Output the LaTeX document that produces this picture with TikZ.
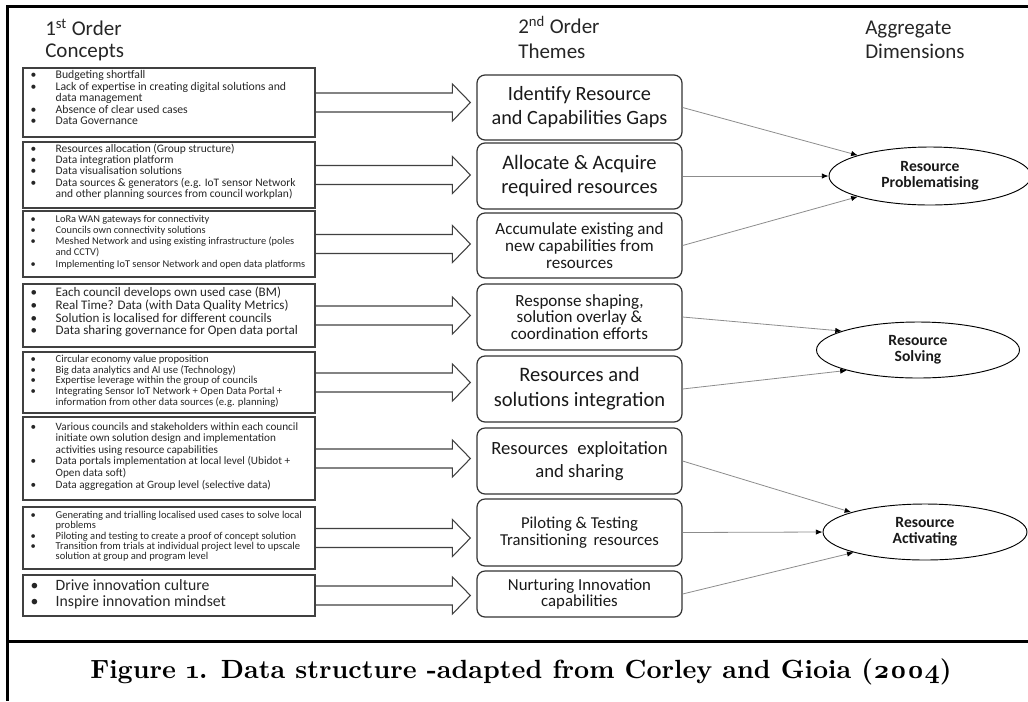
\documentclass[tikz,border=0pt]{standalone}
\usepackage{fontspec}
\setsansfont{Carlito}
\renewcommand\familydefault{\sfdefault}
\newfontfamily\capfont{lmroman10-regular.otf}[BoldFont=lmroman10-bold.otf,Numbers=OldStyle]
\usepackage{graphicx}
\usetikzlibrary{calc,arrows.meta,shapes.geometric}
\newcommand\barrow[2]{%
  \draw[barr] ($(#1.east)+(0,-9.5)$) -- ($(#1.east -| #2.west)+(-24,-9.5)$)
    -- ($(#1.east -| #2.west)+(-24,-18.5)$) -- ($(#1.east -| #2.west)+(-6,0)$)
    -- ($(#1.east -| #2.west)+(-24,18.5)$) -- ($(#1.east -| #2.west)+(-24,9.5)$)
    -- ($(#1.east)+(0,9.5)$);}
\newcommand\bl{\textbullet}
\begin{document}
\begin{tikzpicture}[x=0.75pt,y=-0.75pt,
  lbox/.style={draw=black!75, line width=0.9pt, minimum width=219pt, inner sep=0pt},
  ltext/.style={anchor=west, inner sep=0pt, align=left, text=black!85},
  mbox/.style={draw=black!80, line width=0.9pt, rounded corners=6pt, minimum width=153.75pt, inner sep=0pt, align=center, text=black!90},
  ell/.style={draw=black, line width=0.7pt, ellipse, inner sep=0pt, align=center, text=black!90, font=\bfseries\fontsize{11.7}{12}\selectfont},
  barr/.style={draw=black!75, line width=0.8pt},
  conn/.style={draw=black!45, line width=0.6pt, -{Latex[length=5pt,width=4pt,color=black]}},
  frame/.style={line width=2.25pt, black},
  hdr/.style={anchor=west, inner sep=0pt, align=left, text=black!85}
]
\useasboundingbox (0,0) rectangle (1028,701);
% frame
\draw[frame] (7,6) -- (1028,6);
\draw[frame] (7,5) -- (7,701);
\draw[frame] (7,641) -- (1028,641);
% headers
\node[hdr, font=\fontsize{15.75}{16.5}\selectfont] (H1) at (45,40) {1\textsuperscript{st} Order\\Concepts};
\node[hdr, font=\fontsize{15.75}{18.5}\selectfont] (H2) at (518,37.5) {2\textsuperscript{nd} Order\\Themes};
\node[hdr, font=\fontsize{15.75}{18}\selectfont] (H3) at (865,40) {Aggregate\\Dimensions};
% left boxes
\node[lbox, minimum height=51.75pt] (L1) at (169,102.5) {};
\node[lbox, minimum height=49.5pt] (L2) at (169,175) {};
\node[lbox, minimum height=49.5pt] (L3) at (169,244) {};
\node[lbox, minimum height=47.25pt] (L4) at (169,315.5) {};
\node[lbox, minimum height=45.75pt] (L5) at (169,382.5) {};
\node[lbox, minimum height=62.25pt] (L6) at (169,458.5) {};
\node[lbox, minimum height=46.5pt] (L7) at (169,538) {};
\node[lbox, minimum height=30.75pt] (L8) at (169,595.5) {};
% left texts
\node[ltext, font=\fontsize{8.8}{8.4}\selectfont] (T1) at ($(L1.west)+(8,-3.5)$) {\begin{tabular}{@{}p{18.75pt}@{}l@{}}
\bl & Budgeting shortfall\\
\bl & Lack of expertise in creating digital solutions and\\
 & data management\\
\bl & Absence of clear used cases\\
\bl & Data Governance\end{tabular}};
\node[ltext, font=\fontsize{8.6}{8.25}\selectfont] (T2) at ($(L2.west)+(8,-2.5)$) {\begin{tabular}{@{}p{18.75pt}@{}l@{}}
\bl & Resources allocation (Group structure)\\
\bl & Data integration platform\\
\bl & Data visualisation solutions\\
\bl & Data sources \& generators (e.g. IoT sensor Network\\
 & and other planning sources from council workplan)\end{tabular}};
\node[ltext, font=\fontsize{7.8}{8.4}\selectfont] (T3) at ($(L3.west)+(8,-1.5)$) {\begin{tabular}{@{}p{18.75pt}@{}l@{}}
\bl & LoRa WAN gateways for connectivity\\
\bl & Councils own connectivity solutions\\
\bl & Meshed Network and using existing infrastructure (poles\\
 & and CCTV)\\
\bl & Implementing IoT sensor Network and open data platforms\end{tabular}};
\node[ltext, font=\fontsize{9.8}{9.1}\selectfont] (T4) at ($(L4.west)+(8,-3)$) {\begin{tabular}{@{}p{18.75pt}@{}l@{}}
\bl & Each council develops own used case (BM)\\
\bl & Real Time? Data (with Data Quality Metrics)\\
\bl & Solution is localised for different councils\\
\bl & Data sharing governance for Open data portal\end{tabular}};
\node[ltext, font=\fontsize{8}{7.9}\selectfont] (T5) at ($(L5.west)+(8,-1)$) {\begin{tabular}{@{}p{18.75pt}@{}l@{}}
\bl & Circular economy value proposition\\
\bl & Big data analytics and AI use (Technology)\\
\bl & Expertise leverage within the group of councils\\
\bl & Integrating Sensor IoT Network + Open Data Portal +\\
 & information from other data sources (e.g. planning)\end{tabular}};
\node[ltext, font=\fontsize{8.4}{8.6}\selectfont] (T6) at ($(L6.west)+(8,-1.5)$) {\begin{tabular}{@{}p{18.75pt}@{}l@{}}
\bl & Various councils and stakeholders within each council\\
 & initiate own solution design and implementation\\
 & activities using resource capabilities\\
\bl & Data portals implementation at local level (Ubidot +\\
 & Open data soft)\\
\bl & Data aggregation at Group level (selective data)\end{tabular}};
\node[ltext, font=\fontsize{7.9}{7.6}\selectfont] (T7) at ($(L7.west)+(8,-1)$) {\begin{tabular}{@{}p{18.75pt}@{}l@{}}
\bl & Generating and trialling localised used cases to solve local\\
 & problems\\
\bl & Piloting and testing to create a proof of concept solution\\
\bl & Transition from trials at individual project level to upscale\\
 & solution at group and program level\end{tabular}};
\node[ltext, font=\fontsize{11.8}{12}\selectfont] (T8) at ($(L8.west)+(8,0)$) {\begin{tabular}{@{}p{18.75pt}@{}l@{}}
\bl & Drive innovation culture\\
\bl & Inspire innovation mindset\end{tabular}};
% middle boxes
\node[mbox, minimum height=48.75pt, font=\fontsize{15.2}{18}\selectfont] (M1) at (579.5,107.5) {Identify Resource\\and Capabilities Gaps};
\node[mbox, minimum height=49.5pt, font=\fontsize{15.4}{18}\selectfont] (M2) at (579.5,176) {Allocate \& Acquire\\required resources};
\node[mbox, minimum height=48.75pt, font=\fontsize{12.8}{12.5}\selectfont] (M3) at (579.5,245.5) {Accumulate existing and\\new capabilities from\\resources};
\node[mbox, minimum height=49.5pt, font=\fontsize{12.8}{12.5}\selectfont] (M4) at (579.5,317) {Response shaping,\\solution overlay \&\\coordination efforts};
\node[mbox, minimum height=49.5pt, font=\fontsize{15.4}{18.75}\selectfont] (M5) at (579.5,389) {Resources and\\solutions integration};
\node[mbox, minimum height=49.5pt, font=\fontsize{14}{17.25}\selectfont] (M6) at (579.5,461) {Resources\hspace{0.5em}exploitation\\and sharing};
\node[mbox, minimum height=50.25pt, font=\fontsize{12.5}{13.3}\selectfont] (M7) at (579.5,532.5) {Piloting \& Testing\\Transitioning\hspace{0.4em}resources};
\node[mbox, minimum height=34.5pt, font=\fontsize{12.6}{12.5}\selectfont] (M8) at (579.5,594) {Nurturing Innovation\\capabilities};
% ellipses
\node[ell, minimum width=151.5pt, minimum height=43.5pt] (E1) at (930,176) {Resource\\Problematising};
\node[ell, minimum width=152.25pt, minimum height=42pt] (E2) at (918,350) {Resource\\Solving};
\node[ell, minimum width=153pt, minimum height=42pt] (E3) at (925,532) {Resource\\Activating};
% block arrows
\barrow{L1}{M1}
\barrow{L2}{M2}
\barrow{L3}{M3}
\barrow{L4}{M4}
\barrow{L5}{M5}
\barrow{L6}{M6}
\barrow{L7}{M7}
\barrow{L8}{M8}
% connectors
\draw[conn] (M1.east) -- (E1.164);
\draw[conn] (M2.east) -- (E1.west);
\draw[conn] (M3.east) -- (E1.196);
\draw[conn] (M4.east) -- (E2.166);
\draw[conn] (M5.east) -- (E2.196);
\draw[conn] (M6.east) -- (E3.165);
\draw[conn] (M7.east) -- (E3.west);
\draw[conn] (M8.east) -- (E3.196);
% caption
\node (CAP) at (521,672) {\resizebox{646pt}{!}{\capfont\bfseries Figure 1. Data structure -adapted from Corley and Gioia (2004)}};
\end{tikzpicture}
\end{document}
